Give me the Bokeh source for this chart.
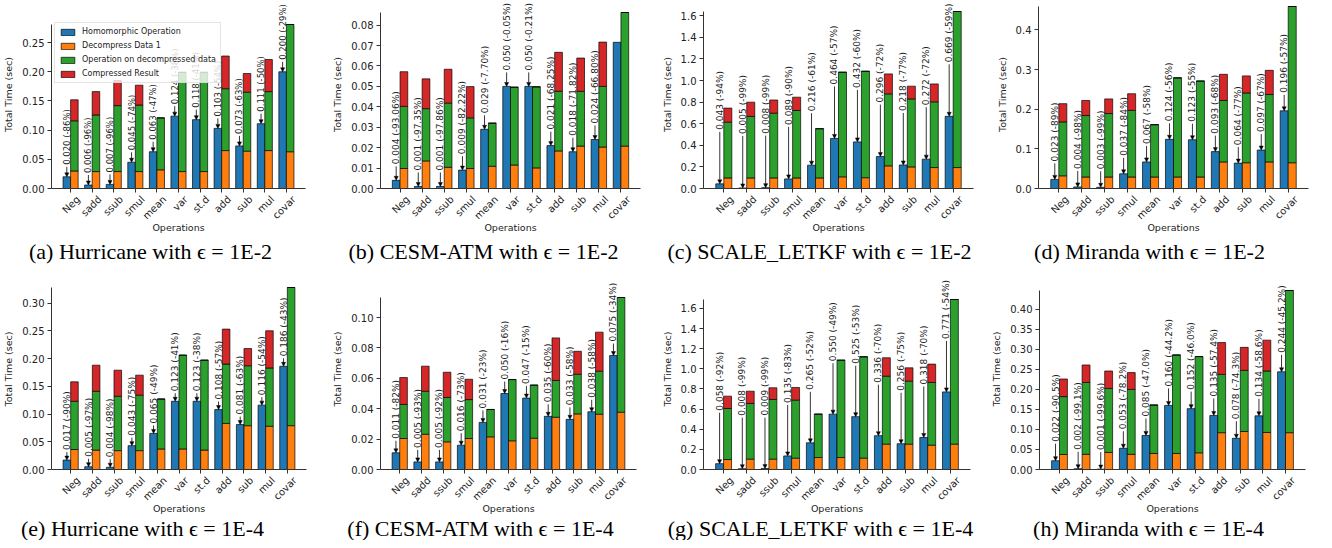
import math
import numpy as np
from bokeh.plotting import figure
from bokeh.models import (ColumnDataSource, Range1d, FixedTicker, NumeralTickFormatter,
                          LinearAxis, Legend, LegendItem, LabelSet, Arrow, NormalHead)
from bokeh.core.properties import value
from bokeh.layouts import row, column
from bokeh.embed import file_html
from bokeh.resources import INLINE

OPS = ["Neg", "sadd", "ssub", "smul", "mean", "var", "st.d", "add", "sub", "mul", "covar"]
LEGEND_LABELS = ["Homomorphic Operation", "Decompress Data 1",
                 "Operation on decompressed data", "Compressed Result"]

# (a) Hurricane, eps = 1E-2
hur2_homo = [0.020, 0.006, 0.007, 0.045, 0.063, 0.124, 0.118, 0.103, 0.073, 0.111, 0.200]
hur2_dec = [0.030, 0.029, 0.029, 0.029, 0.032, 0.029, 0.029, 0.065, 0.064, 0.065, 0.063]
hur2_op = [0.086, 0.097, 0.113, 0.114, 0.089, 0.170, 0.170, 0.106, 0.101, 0.101, 0.218]
hur2_comp = [0.036, 0.040, 0.043, 0.034, 0.0, 0.0, 0.0, 0.056, 0.032, 0.055, 0.0]
hur2_pct = ["-86%", "-96%", "-96%", "-74%", "-47%", "-38%", "-41%", "-54%", "-63%", "-50%", "-29%"]
hur2_ticks = [0.0, 0.05, 0.10, 0.15, 0.20, 0.25]

# (b) CESM-ATM, eps = 1E-2
cesm2_homo = [0.004, 0.001, 0.001, 0.009, 0.029, 0.050, 0.050, 0.021, 0.018, 0.024, 0.0716]
cesm2_dec = [0.0098, 0.0135, 0.0104, 0.0098, 0.0109, 0.0115, 0.0101, 0.0184, 0.0208, 0.0203, 0.0208]
cesm2_op = [0.0304, 0.0256, 0.0314, 0.0248, 0.0211, 0.0381, 0.0397, 0.0292, 0.0268, 0.0297, 0.0654]
cesm2_comp = [0.0170, 0.0146, 0.0166, 0.0153, 0.0, 0.0, 0.0, 0.0191, 0.0163, 0.0217, 0.0]
cesm2_pct = ["-93.06%", "-97.35%", "-97.86%", "-82.22%", "-7.70%", "-0.05%", "-0.21%",
             "-68.25%", "-71.82%", "-66.80%", None]
cesm2_ticks = [0.0, 0.01, 0.02, 0.03, 0.04, 0.05, 0.06, 0.07, 0.08]

# (c) SCALE_LETKF, eps = 1E-2
scale2_homo = [0.043, 0.005, 0.008, 0.089, 0.216, 0.464, 0.432, 0.296, 0.218, 0.272, 0.669]
scale2_dec = [0.098, 0.098, 0.098, 0.098, 0.098, 0.108, 0.100, 0.210, 0.200, 0.194, 0.194]
scale2_op = [0.517, 0.570, 0.600, 0.625, 0.456, 0.969, 0.986, 0.667, 0.630, 0.609, 1.446]
scale2_comp = [0.130, 0.132, 0.122, 0.123, 0.0, 0.0, 0.0, 0.185, 0.118, 0.166, 0.0]
scale2_pct = ["-94%", "-99%", "-99%", "-90%", "-61%", "-57%", "-60%", "-72%", "-77%", "-72%", "-59%"]
scale2_ticks = [0.0, 0.2, 0.4, 0.6, 0.8, 1.0, 1.2, 1.4, 1.6]

# (d) Miranda, eps = 1E-2
mir2_homo = [0.023, 0.004, 0.003, 0.037, 0.067, 0.124, 0.123, 0.093, 0.064, 0.097, 0.196]
mir2_dec = [0.032, 0.029, 0.029, 0.029, 0.029, 0.029, 0.029, 0.067, 0.065, 0.067, 0.065]
mir2_op = [0.136, 0.155, 0.160, 0.168, 0.132, 0.250, 0.242, 0.155, 0.176, 0.170, 0.394]
mir2_comp = [0.046, 0.038, 0.037, 0.042, 0.0, 0.0, 0.0, 0.066, 0.043, 0.061, 0.0]
mir2_pct = ["-89%", "-98%", "-99%", "-84%", "-58%", "-56%", "-55%", "-68%", "-77%", "-67%", "-57%"]
mir2_ticks = [0.0, 0.1, 0.2, 0.3, 0.4]

# (e) Hurricane, eps = 1E-4
hur4_homo = [0.017, 0.005, 0.004, 0.043, 0.065, 0.123, 0.123, 0.108, 0.081, 0.116, 0.186]
hur4_dec = [0.036, 0.035, 0.034, 0.034, 0.037, 0.037, 0.035, 0.083, 0.079, 0.078, 0.079]
hur4_op = [0.087, 0.106, 0.098, 0.100, 0.090, 0.169, 0.162, 0.107, 0.108, 0.105, 0.249]
hur4_comp = [0.035, 0.047, 0.047, 0.036, 0.0, 0.0, 0.0, 0.063, 0.031, 0.067, 0.0]
hur4_pct = ["-90%", "-97%", "-98%", "-75%", "-49%", "-41%", "-38%", "-57%", "-63%", "-54%", "-43%"]
hur4_ticks = [0.0, 0.05, 0.10, 0.15, 0.20, 0.25, 0.30]

# (f) CESM-ATM, eps = 1E-4
cesm4_homo = [0.011, 0.005, 0.005, 0.016, 0.031, 0.050, 0.047, 0.035, 0.033, 0.038, 0.075]
cesm4_dec = [0.0204, 0.0232, 0.0182, 0.0204, 0.0215, 0.0189, 0.0206, 0.0344, 0.0366, 0.0364, 0.0377]
cesm4_op = [0.0224, 0.0283, 0.0292, 0.0256, 0.0180, 0.0403, 0.0349, 0.0242, 0.0261, 0.0283, 0.0755]
cesm4_comp = [0.0177, 0.0165, 0.0166, 0.0134, 0.0, 0.0, 0.0, 0.0280, 0.0151, 0.0257, 0.0]
cesm4_pct = ["-82%", "-93%", "-92%", "-73%", "-23%", "-16%", "-15%", "-60%", "-58%", "-58%", "-34%"]
cesm4_ticks = [0.0, 0.02, 0.04, 0.06, 0.08, 0.10]

# (g) SCALE_LETKF, eps = 1E-4
scale4_homo = [0.058, 0.008, 0.009, 0.135, 0.265, 0.550, 0.525, 0.336, 0.256, 0.318, 0.771]
scale4_dec = [0.099, 0.103, 0.103, 0.113, 0.119, 0.119, 0.113, 0.252, 0.252, 0.242, 0.252]
scale4_op = [0.507, 0.553, 0.593, 0.576, 0.431, 0.967, 1.007, 0.675, 0.626, 0.623, 1.437]
scale4_comp = [0.123, 0.122, 0.116, 0.126, 0.0, 0.0, 0.0, 0.183, 0.132, 0.182, 0.0]
scale4_pct = ["-92%", "-99%", "-99%", "-83%", "-52%", "-49%", "-53%", "-70%", "-75%", "-70%", "-54%"]
scale4_ticks = [0.0, 0.2, 0.4, 0.6, 0.8, 1.0, 1.2, 1.4, 1.6]

# (h) Miranda, eps = 1E-4
mir4_homo = [0.022, 0.002, 0.001, 0.053, 0.085, 0.160, 0.152, 0.135, 0.078, 0.134, 0.244]
mir4_dec = [0.0375, 0.038, 0.0425, 0.038, 0.040, 0.040, 0.0417, 0.092, 0.095, 0.0925, 0.092]
mir4_op = [0.1445, 0.1795, 0.160, 0.162, 0.121, 0.246, 0.2403, 0.1455, 0.1525, 0.1535, 0.355]
mir4_comp = [0.044, 0.0435, 0.0435, 0.042, 0.0, 0.0, 0.0, 0.0795, 0.0575, 0.077, 0.0]
mir4_pct = ["-90.5%", "-99.1%", "-99.6%", "-78.2%", "-47.0%", "-44.2%", "-46.0%",
            "-57.4%", "-74.3%", "-58.6%", "-45.2%"]
mir4_ticks = [0.0, 0.05, 0.10, 0.15, 0.20, 0.25, 0.30, 0.35, 0.40]

PANELS = [
    ("a", "Hurricane", "1E-2", hur2_homo, hur2_dec, hur2_op, hur2_comp, hur2_pct, hur2_ticks, "0.00"),
    ("b", "CESM-ATM", "1E-2", cesm2_homo, cesm2_dec, cesm2_op, cesm2_comp, cesm2_pct, cesm2_ticks, "0.00"),
    ("c", "SCALE_LETKF", "1E-2", scale2_homo, scale2_dec, scale2_op, scale2_comp, scale2_pct, scale2_ticks, "0.0"),
    ("d", "Miranda", "1E-2", mir2_homo, mir2_dec, mir2_op, mir2_comp, mir2_pct, mir2_ticks, "0.0"),
    ("e", "Hurricane", "1E-4", hur4_homo, hur4_dec, hur4_op, hur4_comp, hur4_pct, hur4_ticks, "0.00"),
    ("f", "CESM-ATM", "1E-4", cesm4_homo, cesm4_dec, cesm4_op, cesm4_comp, cesm4_pct, cesm4_ticks, "0.00"),
    ("g", "SCALE_LETKF", "1E-4", scale4_homo, scale4_dec, scale4_op, scale4_comp, scale4_pct, scale4_ticks, "0.0"),
    ("h", "Miranda", "1E-4", mir4_homo, mir4_dec, mir4_op, mir4_comp, mir4_pct, mir4_ticks, "0.00"),
]

# layout (reference px): frame left/right, axis top (T) / bottom (B), annotation offset, caption centre
LAYOUT = [
    dict(col=0, row=0, L=48, R=313, T=24, B=188, off=10, cap=158, lab=8.5),
    dict(col=1, row=0, L=382, R=648, T=12, B=188, off=14, cap=491, lab=9),
    dict(col=2, row=0, L=711, R=981, T=11, B=188, off=52, cap=827, lab=9),
    dict(col=3, row=0, L=1046, R=1316, T=6, B=188, off=16, cap=1157, lab=9),
    dict(col=0, row=1, L=44, R=314, T=291, B=473, off=8, cap=150, lab=9),
    dict(col=1, row=1, L=379, R=644, T=301, B=473, off=12, cap=488, lab=9),
    dict(col=2, row=1, L=706, R=978, T=303, B=473, off=51, cap=828, lab=9),
    dict(col=3, row=1, L=1047, R=1313, T=294, B=473, off=17, cap=1156, lab=9),
]
ROW_TOP = [0, 272]        # reference y of each row's top
ROW_H = [236, 249]        # figure heights
STRIP_H = [32, 23]        # caption strip heights
STRIP_MID = [17.5, 12.5]  # caption middle above strip bottom

BLUE, ORANGE, GREEN, RED = "#1f77b4", "#ff7f0e", "#2ca02c", "#d62728"
W = 329
FONT = "DejaVu Sans"
SHIFT = 0.35


def make_panel(spec, lay):
    key, name, eps, homo, dec, op, comp, pct, ticks, fmt = spec
    r = lay["row"]
    H = ROW_H[r]
    x0 = 8 + W * lay["col"]
    y0 = ROW_TOP[r]
    totals = np.array(dec) + np.array(op) + np.array(comp)
    ymax = float(totals.max())
    axis_h = lay["B"] - lay["T"]
    frame_h = lay["B"] - y0
    yend = ymax * frame_h / axis_h
    p = figure(width=W, height=H, x_range=Range1d(-0.885, 10.885), y_range=Range1d(0, yend),
               output_backend="svg", toolbar_location=None, title=None,
               x_axis_location=None, y_axis_location=None,
               min_border_left=lay["L"] - x0, min_border_right=x0 + W - lay["R"],
               min_border_top=0, min_border_bottom=H - frame_h)
    p.outline_line_color = None
    p.grid.visible = False
    p.background_fill_color = "white"
    p.border_fill_color = "white"

    idx = np.arange(len(OPS))
    src = ColumnDataSource(dict(xb=idx - 0.175, xs=idx + 0.175, homo=homo, dec=dec, op=op, comp=comp))
    rb = p.vbar(x="xb", top="homo", width=0.35, source=src, fill_color=BLUE,
                line_color="black", line_width=0.8, line_alpha=0.85)
    rs = p.vbar_stack(["dec", "op", "comp"], x="xs", width=0.35, source=src,
                      fill_color=[ORANGE, GREEN, RED], line_color="black",
                      line_width=0.8, line_alpha=0.85)

    # axes
    yax = LinearAxis(ticker=FixedTicker(ticks=ticks), formatter=NumeralTickFormatter(format=fmt),
                     axis_label="Total Time (sec)", bounds=(0, ymax))
    xtk = LinearAxis(ticker=FixedTicker(ticks=list(range(len(OPS)))),
                     major_label_overrides={i: "" for i in range(len(OPS))})
    xlb = LinearAxis(ticker=FixedTicker(ticks=[i + SHIFT for i in range(len(OPS))]),
                     major_label_overrides={i + SHIFT: o for i, o in enumerate(OPS)},
                     axis_label="Operations")
    for ax in (yax, xtk, xlb):
        ax.axis_line_color = "#333333"
        ax.major_tick_line_color = "#333333"
        ax.minor_tick_line_color = None
        ax.major_tick_out = 4
        ax.major_tick_in = 0
        ax.major_label_text_font = FONT
        ax.major_label_text_font_size = "10px"
        ax.major_label_text_color = "#222222"
        ax.axis_label_text_font = FONT
        ax.axis_label_text_font_size = "9.5px"
        ax.axis_label_text_font_style = "normal"
        ax.axis_label_text_color = "#222222"
    yax.major_label_standoff = 3
    yax.axis_label_standoff = 5
    xtk.major_label_standoff = 0
    xtk.major_label_text_font_size = "0px"
    xlb.axis_line_color = None
    xlb.major_tick_line_color = None
    xlb.major_tick_out = 0
    xlb.major_label_standoff = 5
    xlb.major_label_orientation = math.pi / 4
    xlb.axis_label_standoff = -6
    p.add_layout(yax, "left")
    p.add_layout(xtk, "below")
    p.add_layout(xlb, "below")

    # annotations: value labels with arrows down to the homomorphic bars
    off = lay["off"] * ymax / axis_h
    keep = [i for i in range(len(OPS)) if pct[i] is not None]
    hv = [homo[i] for i in keep]
    lsrc = ColumnDataSource(dict(x=[i - 0.175 for i in keep], y=[v + off for v in hv], y1=hv,
                                 text=[f"{homo[i]:.3f} ({pct[i]})" for i in keep]))
    p.add_layout(Arrow(end=NormalHead(size=4, line_color="black", fill_color="black", line_width=0.5),
                       x_start="x", y_start="y", x_end="x", y_end="y1", source=lsrc,
                       line_color="black", line_width=0.8))
    p.add_layout(LabelSet(x="x", y="y", text="text", source=lsrc, angle=math.pi / 2,
                          text_align="left", text_baseline="middle", y_offset=2,
                          text_font=value(FONT), text_font_size=value(f"{lay['lab']}px"),
                          text_color="#222222"))

    if key == "a":
        items = [LegendItem(label=LEGEND_LABELS[0], renderers=[rb])] + \
                [LegendItem(label=LEGEND_LABELS[k + 1], renderers=[rs[k]]) for k in range(3)]
        leg = Legend(items=items, location=(3, lay["B"] - 83), margin=0, padding=4, spacing=5,
                     glyph_width=17, glyph_height=8, label_height=9, label_standoff=6,
                     label_text_font=FONT, label_text_font_size="8px", label_text_color="#222222",
                     border_line_color="#cccccc", border_line_width=1,
                     background_fill_color="white", background_fill_alpha=0.8)
        p.add_layout(leg)
    return p


def make_strip(r):
    specs = [(s, l) for s, l in zip(PANELS, LAYOUT) if l["row"] == r]
    total_w = 4 * W
    s = figure(width=total_w, height=STRIP_H[r], x_range=Range1d(0, total_w),
               y_range=Range1d(0, STRIP_H[r]), output_backend="svg", toolbar_location=None,
               title=None, x_axis_location=None, y_axis_location=None,
               min_border_left=0, min_border_right=0, min_border_top=0, min_border_bottom=0)
    s.outline_line_color = None
    s.grid.visible = False
    csrc = ColumnDataSource(dict(
        x=[l["cap"] - 8 for _, l in specs],
        y=[STRIP_MID[r]] * len(specs),
        text=[f"({sp[0]}) {sp[1]} with \u03f5 = {sp[2]}" for sp, _ in specs]))
    s.text(x="x", y="y", text="text", source=csrc, text_align="center", text_baseline="middle",
           text_font=value("Liberation Serif"), text_font_size=value("22px"), text_color="black")
    return s


figs = [make_panel(s, l) for s, l in zip(PANELS, LAYOUT)]
layout = column(row(*figs[:4]), make_strip(0), row(*figs[4:]), make_strip(1))
open("out.html", "w").write(file_html(layout, INLINE))
